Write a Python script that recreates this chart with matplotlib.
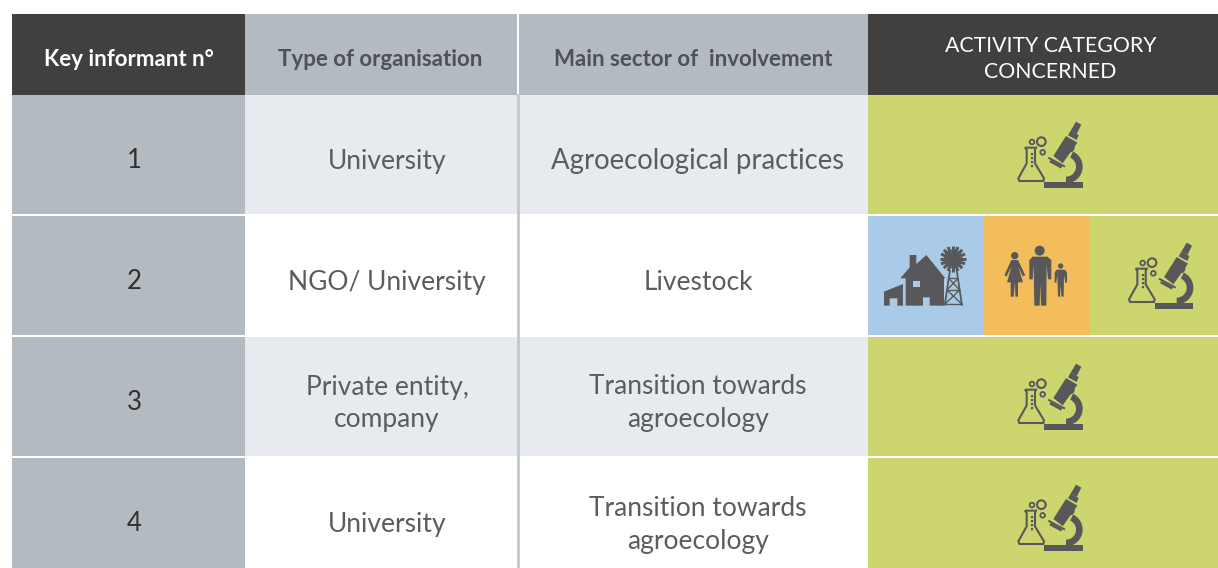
"""Key informant table, redrawn on a pixel-sized axes."""

import matplotlib
matplotlib.use("Agg")
import matplotlib.pyplot as plt
import numpy as np
from matplotlib.patches import Circle, Polygon, Rectangle, Wedge

plt.rcParams["font.family"] = ["Lato", "DejaVu Sans"]

HEADERS = ["Key informant n°", "Type of organisation", "Main sector of  involvement",
           "ACTIVITY CATEGORY\nCONCERNED"]
INFORMANTS = ["1", "2", "3", "4"]
ORGANISATIONS = ["University", "NGO/ University", "Private entity,\ncompany", "University"]
SECTORS = ["Agroecological practices", "Livestock", "Transition towards\nagroecology",
           "Transition towards\nagroecology"]

COL_X = [12, 245, 519, 868, 1218]
ROW_Y = [95, 216, 337, 458, 579]
ROW_MID = [161.5, 282.5, 403.5, 524.5]
DARK = "#404040"
GREY = "#b3bac0"
LIGHT = "#e7eaee"
GREEN = "#cdd66e"
BLUE = "#a9cbe8"
ORANGE = "#f3bd5c"
ICON = "#58585a"
TEXT = "#5a5d60"
HEAD_TEXT = "#4e5155"

fig = plt.figure(figsize=(12.18, 5.68), dpi=100)
ax = fig.add_axes([0, 0, 1, 1])
ax.set_xlim(0, 1218)
ax.set_ylim(568, 0)
ax.axis("off")


def box(x0, y0, x1, y1, color, z=1):
    ax.add_patch(Rectangle((x0, y0), x1 - x0, y1 - y0, fc=color, ec="none", zorder=z))


def poly(pts, dx, dy, color=ICON, z=3, s=1 / 3):
    pts = [(dx + x * s, dy + y * s) for x, y in pts]
    ax.add_patch(Polygon(pts, closed=True, fc=color, ec="none", zorder=z))


def seg(p, q, dx, dy, lw, color=ICON, s=1 / 3):
    ax.plot([dx + p[0] * s, dx + q[0] * s], [dy + p[1] * s, dy + q[1] * s],
            color=color, lw=lw, solid_capstyle="butt", zorder=3)


def ring(x, y, r, dx, dy, lw=1.3, s=1 / 3, fill="none"):
    ax.add_patch(Circle((dx + x * s, dy + y * s), r * s, fc=fill, ec=ICON, lw=lw, zorder=3))


def science(dx, dy):
    # flask and microscope, coordinates are 3x px inside the icon
    flask = [(75, 113), (108, 113), (105, 120), (105, 160), (132, 205), (130, 213),
             (58, 213), (55, 205), (80, 160), (80, 120)]
    pts = [(dx + x / 3, dy + y / 3) for x, y in flask]
    ax.add_patch(Polygon(pts, closed=True, fc="none", ec=ICON, lw=1.5, zorder=3))
    ax.plot([dx + 96 / 3] * 2, [dy + 130 / 3, dy + 176 / 3], color=ICON, lw=1.6,
            ls=(0, (1, 0.8)), zorder=3)
    ring(124, 95, 13, dx, dy, lw=1.5)
    ring(96, 96, 7, dx, dy)
    ring(128, 127, 7, dx, dy)
    poly([(133, 217), (248, 217), (248, 233), (133, 233)], dx, dy)
    ax.add_patch(Wedge((dx + 198 / 3, dy + 170 / 3), 50 / 3, -65, 90, width=20 / 3,
                       fc=ICON, ec="none", zorder=3))
    poly([(198, 78), (232, 98), (188, 160), (160, 138)], dx, dy)
    poly([(228, 35), (244, 44), (230, 72), (212, 62)], dx, dy)
    poly([(212, 62), (236, 75), (230, 90), (204, 76)], dx, dy)
    ring(210, 113, 14, dx, dy, lw=0, fill=ICON)
    seg((145, 143), (195, 170), dx, dy, 1.4)
    seg((150, 153), (185, 172), dx, dy, 2.0)


def farm(dx, dy):
    poly([(175, 135), (232, 205), (228, 205), (228, 287), (185, 287), (185, 262), (165, 262),
          (165, 287), (113, 287), (113, 205), (97, 205), (125, 172), (125, 135), (145, 135),
          (145, 162)], dx, dy)
    poly([(135, 212), (155, 212), (155, 230), (135, 230)], dx, dy, color=BLUE, z=4)
    poly([(48, 245), (105, 222), (105, 287), (88, 287), (88, 265), (65, 265), (65, 287),
          (48, 287)], dx, dy)
    # windmill
    cx, cy = 255, 147
    for a in np.arange(0, 180, 22.5):
        c, n = np.cos(np.radians(a)), np.sin(np.radians(a))
        seg((cx - 39 * c, cy - 39 * n), (cx + 39 * c, cy + 39 * n), dx, dy, 2.2)
    ring(cx, cy, 15, dx, dy, lw=0, fill=ICON)
    ring(cx, cy, 26, dx, dy, lw=1.0)
    seg((246, 180), (230, 287), dx, dy, 1.3)
    seg((266, 180), (282, 287), dx, dy, 1.3)
    for y0, y1, x0, x1 in [(205, 205, 242, 270), (240, 240, 237, 275), (282, 282, 231, 281),
                           (205, 240, 242, 275), (205, 240, 270, 237), (240, 282, 237, 281),
                           (240, 282, 275, 231)]:
        seg((x0, y0), (x1, y1), dx, dy, 1.0)


def people(dx, dy):
    # man
    ring(515, 122, 15, dx, dy, lw=0, fill=ICON)
    poly([(494, 140), (538, 140), (550, 150), (550, 208), (540, 208), (536, 165), (535, 287),
          (519, 287), (517, 222), (515, 287), (499, 287), (497, 165), (494, 208), (484, 208),
          (484, 150)], dx, dy)
    # woman
    ring(440, 137, 11, dx, dy, lw=0, fill=ICON)
    poly([(430, 150), (450, 150), (472, 196), (464, 199), (451, 170), (465, 217), (450, 217),
          (450, 260), (442, 260), (441, 217), (437, 260), (428, 260), (428, 217), (417, 217),
          (430, 170), (416, 199), (409, 196)], dx, dy)
    # child
    ring(578, 168, 8, dx, dy, lw=0, fill=ICON)
    poly([(566, 179), (590, 179), (597, 187), (597, 218), (592, 218), (588, 195), (587, 260),
          (580, 260), (578, 225), (576, 260), (570, 260), (568, 195), (565, 218), (560, 218),
          (560, 187)], dx, dy)


# header band
box(COL_X[0], 14, COL_X[1], 95, DARK)
box(COL_X[1], 14, COL_X[3], 95, GREY)
box(COL_X[3], 14, COL_X[4], 95, DARK)
ax.text(128.5, 59, HEADERS[0], color="white", fontsize=16, fontweight="bold",
        ha="center", va="center")
ax.text(380.5, 59, HEADERS[1], color=HEAD_TEXT, fontsize=16, fontweight="bold",
        ha="center", va="center")
ax.text(693, 59, HEADERS[2], color=HEAD_TEXT, fontsize=16, fontweight="bold",
        ha="center", va="center")
ax.text(1050.5, 59, HEADERS[3], color="white", fontsize=15.3, ha="center", va="center",
        linespacing=1.33)

# body rows
for i, (num, org, sector) in enumerate(zip(INFORMANTS, ORGANISATIONS, SECTORS)):
    top, bot = ROW_Y[i], ROW_Y[i + 1] - 2
    mid = ROW_MID[i]
    box(COL_X[0], top, COL_X[1], bot, GREY)
    if i % 2 == 0:
        box(COL_X[1], top, COL_X[3], bot, LIGHT)
    box(COL_X[3], top, COL_X[4], bot, GREEN)
    ax.text(134, mid - 1, num, color="#303030", fontsize=18.5, ha="center", va="center")
    ax.text(387, mid, org, color=TEXT, fontsize=19, ha="center", va="center", linespacing=1.4)
    ax.text(698, mid, sector, color=TEXT, fontsize=19.8 if i == 0 else 19, ha="center",
            va="center", linespacing=1.4)

# activity icons
box(868, 216, 982.5, 335, BLUE, z=2)
box(982.5, 216, 1090, 335, ORANGE, z=2)
farm(868, 210)
people(868, 210)
science(1000, 110)
science(1110.7, 231)
science(1000, 352)
science(1000, 473)

# column divider
ax.plot([518, 518], [14, 95], color="white", lw=1.4, zorder=2)
ax.plot([518, 518], [95, 568], color="#c3c8cd", lw=2, zorder=2)

fig.savefig("out.png", dpi=100, facecolor="white")
